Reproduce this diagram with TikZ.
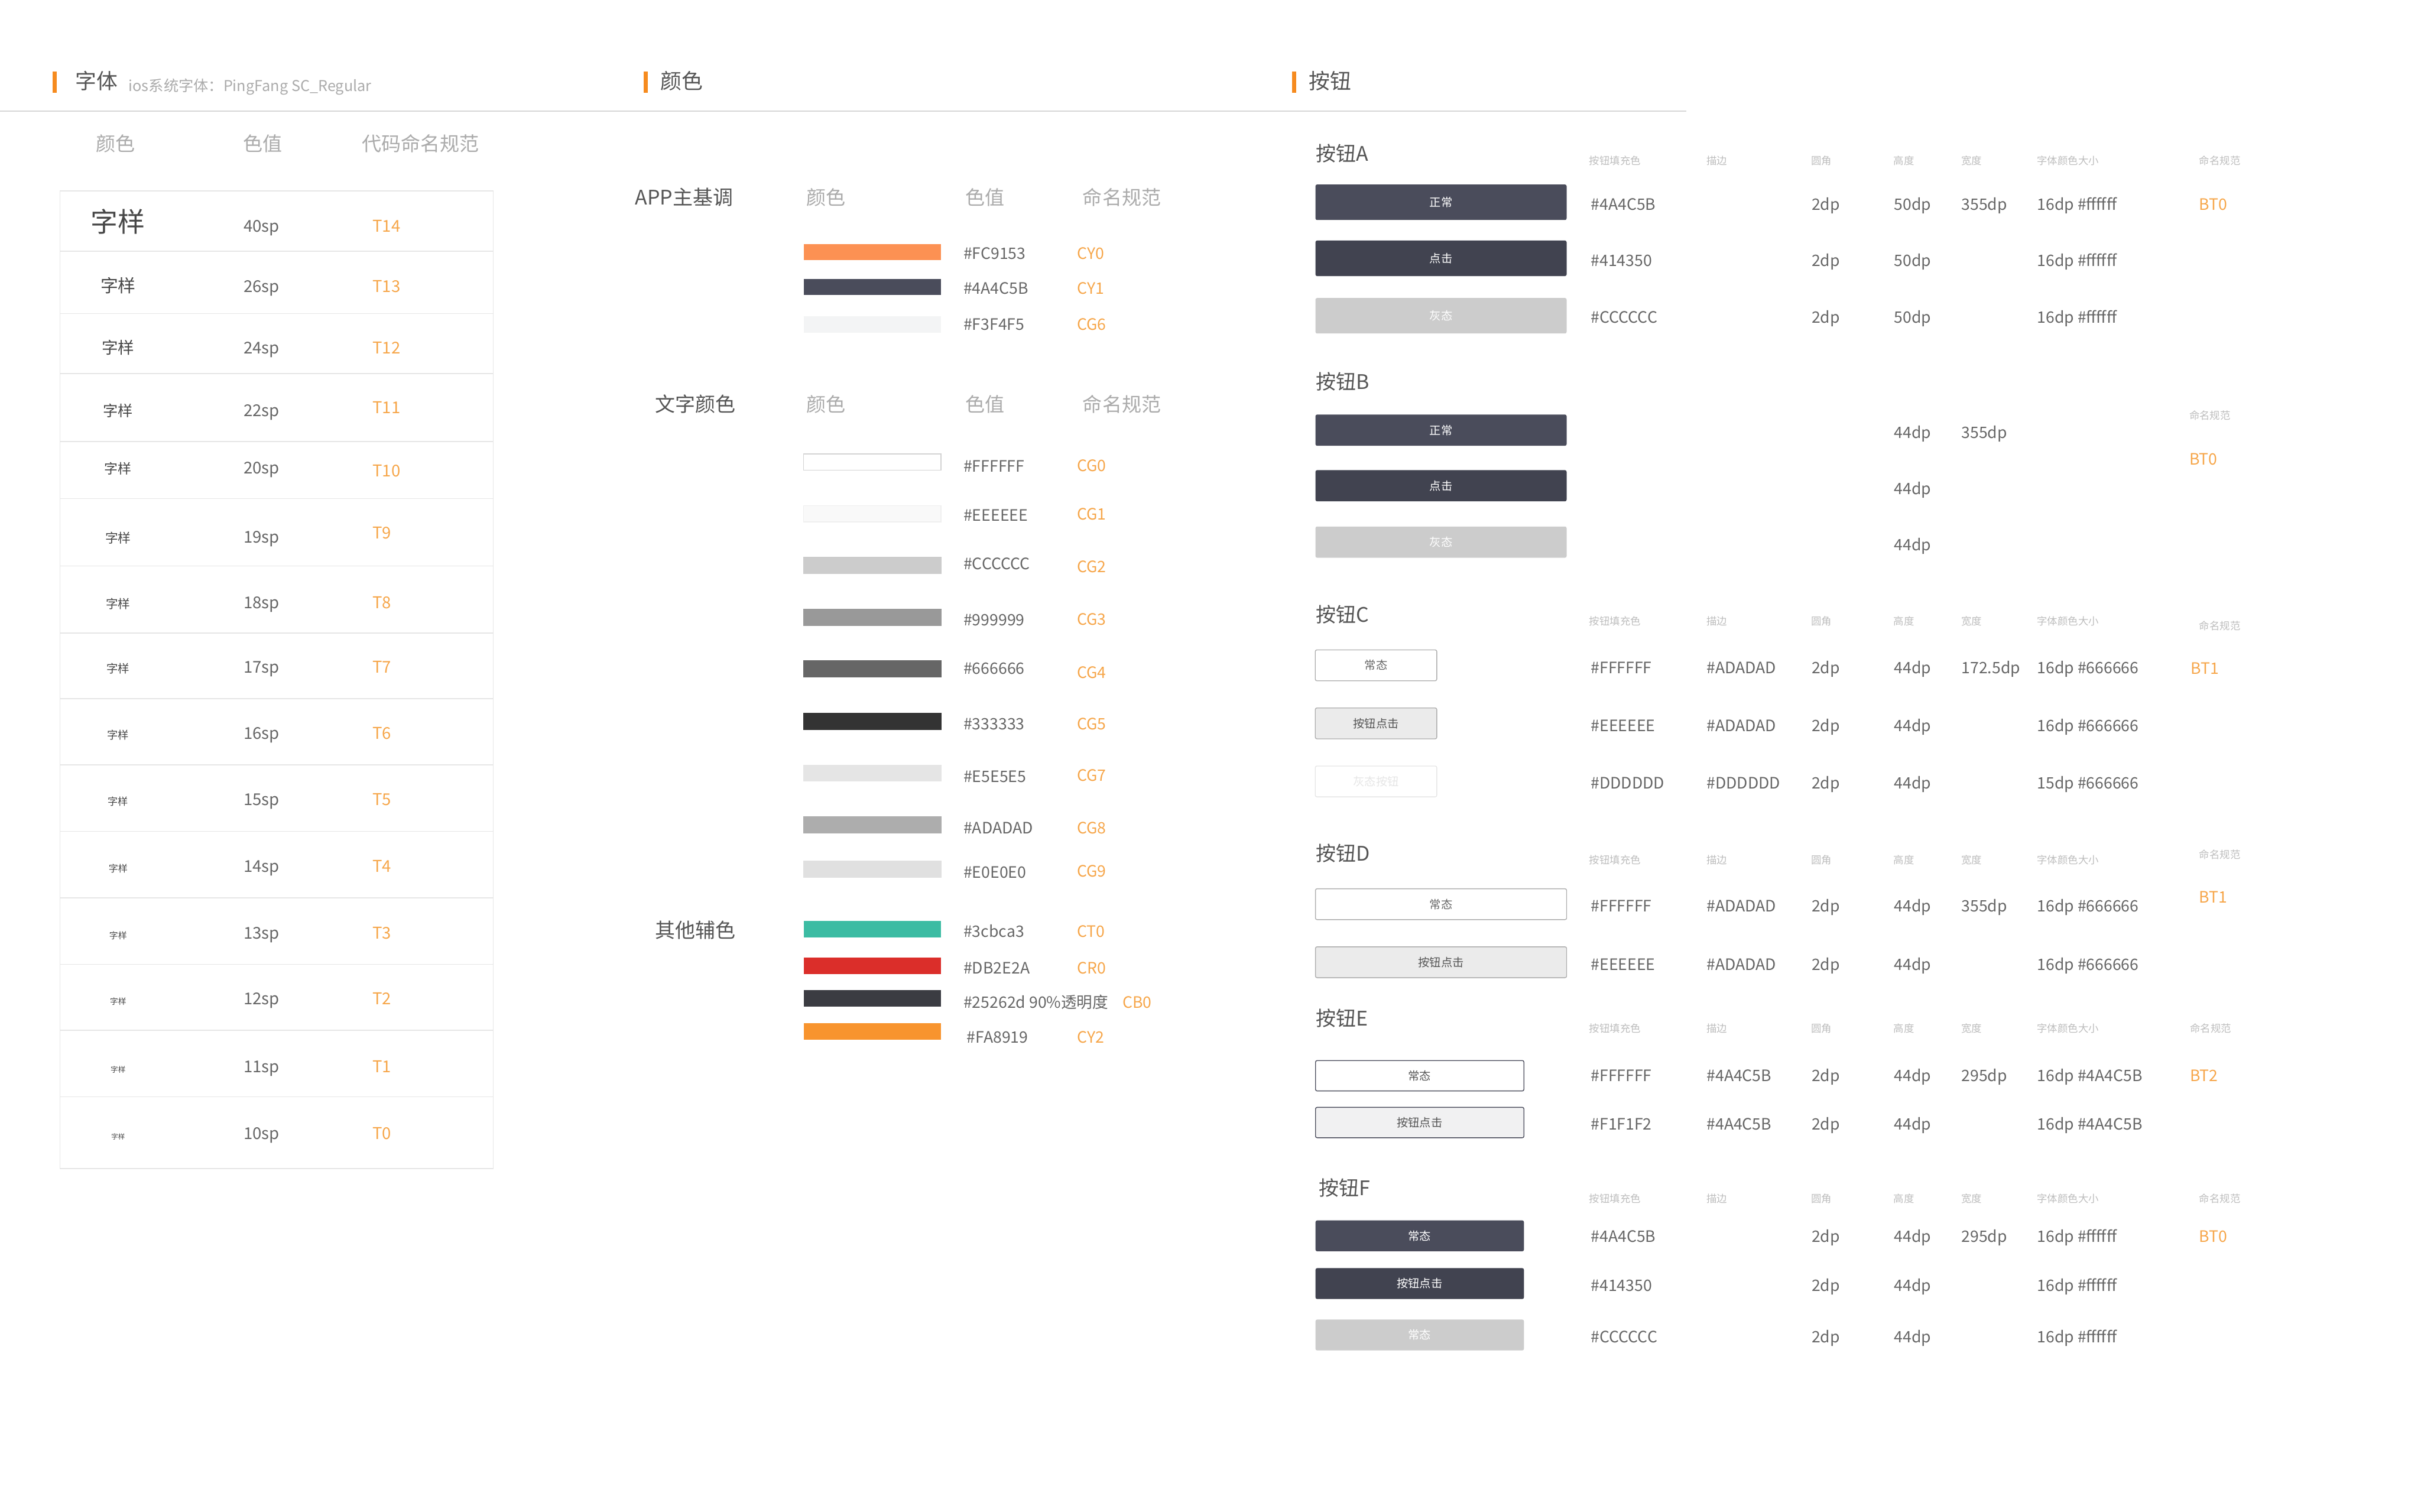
\documentclass[tikz,border=0pt]{standalone}
\usepackage{fontspec}
\setmainfont{Noto Sans CJK SC}
\definecolor{accent}{HTML}{F68B1F}
\definecolor{codeorange}{HTML}{F6A64A}
\definecolor{titlegray}{HTML}{555555}
\definecolor{valgray}{HTML}{666666}
\definecolor{hdrgray}{HTML}{ABABAB}
\definecolor{tinygray}{HTML}{BDBDBD}
\definecolor{rulegray}{HTML}{D6D6D6}
\definecolor{cellgray}{HTML}{E6E6E6}
\definecolor{sample}{HTML}{474747}
\definecolor{navy}{HTML}{4A4C5B}
\definecolor{navydark}{HTML}{414350}
\definecolor{btngrey}{HTML}{CCCCCC}
\definecolor{btnpress}{HTML}{EBEBEB}
\definecolor{btnline}{HTML}{ADADAD}
\tikzset{
  sec/.style={font=\fontsize{7.8}{8}\selectfont, text=titlegray, anchor=mid west, inner sep=0},
  note/.style={font=\fontsize{5.5}{5.5}\selectfont, text=hdrgray, anchor=mid west, inner sep=0},
  colhd/.style={font=\fontsize{7.2}{7.2}\selectfont, text=hdrgray, anchor=mid, inner sep=0},
  grp/.style={font=\fontsize{7.4}{7.4}\selectfont, text=titlegray, anchor=mid west, inner sep=0},
  val/.style={font=\fontsize{5.8}{5.8}\selectfont, text=valgray, anchor=mid west, inner sep=0},
  code/.style={val, text=codeorange},
  tinyhd/.style={font=\fontsize{3.8}{3.8}\selectfont, text=tinygray, anchor=mid west, inner sep=0},
  btn/.style={rounded corners=0.6pt, inner sep=0, font=\fontsize{4.2}{4.2}\selectfont, text=white},
  wide/.style={minimum width=3.254cm},
  half/.style={minimum width=1.574cm},
  mid295/.style={minimum width=2.7cm},
  outline/.style={fill=white, draw=btnline, line width=0.3pt, text=valgray}
}
\newcommand\colheads[4]{%
  \foreach \x/\t [count=\k] in {1029/按钮填充色, 1105/描边, 1172.6/圆角, 1226/高度, 1270/宽度, 1319/字体颜色大小}
    \node[tinyhd] (h#1\k) at (\x,#2) {\t};
  \node[tinyhd] (h#1n) at (#4,#3) {命名规范};
}
\begin{document}
\begin{tikzpicture}[x=0.02cm, y=-0.02cm]
\useasboundingbox (0,0) rectangle (1568,979);

\foreach \b/\x/\t [count=\i] in {34/48.6/字体, 417/427.5/颜色, 837/847.5/按钮}{
  \fill[accent] (\b,46.4) rectangle ++(2.6,13.6);
  \node[sec] (sec\i) at (\x,53) {\t};
}
\node[note] (fontnote) at (83,54.5) {ios系统字体：PingFang SC\_Regular};
\draw[rulegray, line width=0.4pt] (0,72) -- (1092,72);

\foreach \x/\t [count=\i] in {75/颜色, 170/色值, 272.5/代码命名规范}
  \node[colhd] (fh\i) at (\x,93) {\t};
\draw[cellgray, line width=0.3pt] (38.8,123.7) rectangle (319.4,756.8);
\foreach \y in {162.7,203,242,286,323,366.5,410,452.5,495.4,538.5,581.5,624.6,667.3,710.4}
  \draw[cellgray, line width=0.3pt] (38.8,\y) -- (319.4,\y);
\foreach \y/\s/\c/\cy [count=\i] in {145.5/40/T14/145.5, 184.4/26/T13/184.4, 224.5/24/T12/224.5,
    265/22/T11/263, 302/20/T10/304, 347/19/T9/344, 389.5/18/T8/389.5, 431/17/T7/431,
    474/16/T6/474, 517/15/T5/517, 560/14/T4/560, 603.5/13/T3/603.5, 646/12/T2/646,
    690/11/T1/690, 733/10/T0/733}{
  \pgfmathsetmacro\fs{0.25*\s}
  \node[anchor=mid, inner sep=0, text=sample, font=\fontsize{\fs}{\fs}\selectfont] (smp\i) at (76.5,\y) {字样};
  \node[val, font=\fontsize{6}{6}\selectfont] (sp\i) at (157.5,\y) {\s sp};
  \node[code, font=\fontsize{6}{6}\selectfont] (tc\i) at (241,\cy) {\c};
}

\node[grp] (app) at (411,128) {APP主基调};
\node[grp] (txtc) at (424,262) {文字颜色};
\node[grp] (misc) at (424,602.7) {其他辅色};
\foreach \y [count=\j] in {128,262}
  \foreach \x/\t [count=\i] in {535/颜色, 638/色值, 726.6/命名规范}
    \node[colhd] (mh\j\i) at (\x,\y) {\t};
\foreach \top/\ty/\h/\c [count=\i] in {158/163/FC9153/CY0, 180.6/185.6/4A4C5B/CY1, 205/209/F3F4F5/CG6}{
  \definecolor{swf}{HTML}{\h}
  \fill[swf] (520.5,\top) rectangle ++(89,10.6);
  \node[val] (mhex\i) at (623.7,\ty) {\#\h};
  \node[code] (mcode\i) at (697.3,\ty) {\c};
}
\foreach \top/\ty/\h/\f/\b/\c/\cy [count=\i] in {
    294/301/FFFFFF/FFFFFF/D3D3D3/CG0/300.7,
    327.5/332.7/EEEEEE/F9F9F9/EFEFEF/CG1/332,
    361/364/CCCCCC/CCCCCC/CCCCCC/CG2/366,
    394.7/400.4/999999/999999/999999/CG3/400,
    428/432/666666/666666/666666/CG4/434.5,
    462/468/333333/333333/333333/CG5/468,
    495.5/501.8/E5E5E5/E5E5E5/E5E5E5/CG7/501,
    529/535/ADADAD/ADADAD/ADADAD/CG8/535,
    557.6/563.8/E0E0E0/E0E0E0/E0E0E0/CG9/563}{
  \definecolor{swf}{HTML}{\f}\definecolor{swb}{HTML}{\b}
  \filldraw[fill=swf, draw=swb, line width=0.3pt] (520.5,\top) rectangle ++(89,10.5);
  \node[val] (thex\i) at (623.7,\ty) {\#\h};
  \node[code] (tcode\i) at (697.2,\cy) {\c};
}
\foreach \top/\ty/\f/\t/\hx/\c/\cx [count=\i] in {
    596.6/602.1/3CBCA3/\#3cbca3/623.7/CT0/697.3,
    620.3/625.8/DB2E2A/\#DB2E2A/623.7/CR0/697.3,
    641.4/648.2/3B3C42/\#25262d 90\%透明度/623.7/CB0/726.7,
    662.7/670.6/F8942E/\#FA8919/625.8/CY2/697.3}{
  \definecolor{swf}{HTML}{\f}
  \fill[swf] (520.5,\top) rectangle ++(89,10.6);
  \node[val] (ohex\i) at (\hx,\ty) {\t};
  \node[code] (ocode\i) at (\cx,\ty) {\c};
}

\node[grp] (tA) at (852,99.6) {按钮A};
\colheads{A}{102}{102}{1424}
\node[btn, wide, minimum height=0.46cm, fill=navy] (bA1) at (933.3,131) {正常};
\node[btn, wide, minimum height=0.46cm, fill=navydark] (bA2) at (933.3,167.3) {点击};
\node[btn, wide, minimum height=0.46cm, fill=btngrey] (bA3) at (933.3,204.5) {灰态};
\foreach \x/\t [count=\i] in {1030/\#4A4C5B, 1173/2dp, 1226.5/50dp, 1270/355dp, 1319/16dp \#ffffff}
  \node[val] (vA1\i) at (\x,131.5) {\t};
\foreach \x/\t [count=\i] in {1030/\#414350, 1173/2dp, 1226.5/50dp, 1319/16dp \#ffffff}
  \node[val] (vA2\i) at (\x,167.5) {\t};
\foreach \x/\t [count=\i] in {1030/\#CCCCCC, 1173/2dp, 1226.5/50dp, 1319/16dp \#ffffff}
  \node[val] (vA3\i) at (\x,204.5) {\t};
\node[code] (nA) at (1424,131.5) {BT0};

\node[grp] (tB) at (852,247.4) {按钮B};
\node[btn, wide, minimum height=0.404cm, fill=navy] (bB1) at (933.3,278.6) {正常};
\node[btn, wide, minimum height=0.404cm, fill=navydark] (bB2) at (933.3,314.6) {点击};
\node[btn, wide, minimum height=0.404cm, fill=btngrey] (bB3) at (933.3,351.1) {灰态};
\foreach \y [count=\i] in {279.1,315.5,351.9}
  \node[val] (vB\i) at (1226.5,\y) {44dp};
\node[val] (wB) at (1270,279.1) {355dp};
\node[tinyhd] (hBn) at (1417.6,266.9) {命名规范};
\node[code] (nB) at (1417.6,296.2) {BT0};

\node[grp] (tC) at (852,398) {按钮C};
\colheads{C}{400}{403}{1424}
\node[btn, half, minimum height=0.4cm, outline] (bC1) at (891.2,430.9) {常态};
\node[btn, half, minimum height=0.4cm, outline, fill=btnpress, text=titlegray] (bC2) at (891.2,468.5) {按钮点击};
\node[btn, half, minimum height=0.4cm, outline, draw=cellgray, text=cellgray] (bC3) at (891.2,506.1) {灰态按钮};
\foreach \x/\t [count=\i] in {1030/\#FFFFFF, 1105/\#ADADAD, 1173/2dp, 1226.5/44dp, 1270/172.5dp, 1319/16dp \#666666}
  \node[val] (vC1\i) at (\x,431.4) {\t};
\foreach \x/\t [count=\i] in {1030/\#EEEEEE, 1105/\#ADADAD, 1173/2dp, 1226.5/44dp, 1319/16dp \#666666}
  \node[val] (vC2\i) at (\x,468.8) {\t};
\foreach \x/\t [count=\i] in {1030/\#DDDDDD, 1105/\#DDDDDD, 1173/2dp, 1226.5/44dp, 1319/15dp \#666666}
  \node[val] (vC3\i) at (\x,506.2) {\t};
\node[code] (nC) at (1418.5,431.9) {BT1};

\node[grp] (tD) at (852,552.8) {按钮D};
\colheads{D}{554.8}{551.4}{1424}
\node[btn, wide, minimum height=0.4cm, outline] (bD1) at (933.3,585.6) {常态};
\node[btn, wide, minimum height=0.4cm, outline, fill=btnpress, text=titlegray] (bD2) at (933.3,623.2) {按钮点击};
\foreach \x/\t [count=\i] in {1030/\#FFFFFF, 1105/\#ADADAD, 1173/2dp, 1226.5/44dp, 1270/355dp, 1319/16dp \#666666}
  \node[val] (vD1\i) at (\x,585.7) {\t};
\foreach \x/\t [count=\i] in {1030/\#EEEEEE, 1105/\#ADADAD, 1173/2dp, 1226.5/44dp, 1319/16dp \#666666}
  \node[val] (vD2\i) at (\x,623.7) {\t};
\node[code] (nD) at (1424,579.8) {BT1};

\node[grp] (tE) at (852,659.5) {按钮E};
\colheads{E}{664}{664}{1418}
\node[btn, mid295, minimum height=0.394cm, outline, draw=navy, text=titlegray] (bE1) at (919.5,696.7) {常态};
\node[btn, mid295, minimum height=0.394cm, outline, draw=navy, fill={rgb,255:red,241;green,241;blue,242}, text=titlegray] (bE2) at (919.5,727) {按钮点击};
\foreach \x/\t [count=\i] in {1030/\#FFFFFF, 1105/\#4A4C5B, 1173/2dp, 1226.5/44dp, 1270/295dp, 1319/16dp \#4A4C5B}
  \node[val] (vE1\i) at (\x,695.7) {\t};
\foreach \x/\t [count=\i] in {1030/\#F1F1F2, 1105/\#4A4C5B, 1173/2dp, 1226.5/44dp, 1319/16dp \#4A4C5B}
  \node[val] (vE2\i) at (\x,727) {\t};
\node[code] (nE) at (1418,695.7) {BT2};

\node[grp] (tF) at (854,769.6) {按钮F};
\colheads{F}{774}{774}{1424}
\node[btn, mid295, minimum height=0.4cm, fill=navy] (bF1) at (919.5,800.4) {常态};
\node[btn, mid295, minimum height=0.4cm, fill=navydark] (bF2) at (919.5,831.3) {按钮点击};
\node[btn, mid295, minimum height=0.4cm, fill=btngrey] (bF3) at (919.5,864.6) {常态};
\foreach \x/\t [count=\i] in {1030/\#4A4C5B, 1173/2dp, 1226.5/44dp, 1270/295dp, 1319/16dp \#ffffff}
  \node[val] (vF1\i) at (\x,799.8) {\t};
\foreach \x/\t [count=\i] in {1030/\#414350, 1173/2dp, 1226.5/44dp, 1319/16dp \#ffffff}
  \node[val] (vF2\i) at (\x,831.6) {\t};
\foreach \x/\t [count=\i] in {1030/\#CCCCCC, 1173/2dp, 1226.5/44dp, 1319/16dp \#ffffff}
  \node[val] (vF3\i) at (\x,864.8) {\t};
\node[code] (nF) at (1424,799.8) {BT0};
\end{tikzpicture}
\end{document}
